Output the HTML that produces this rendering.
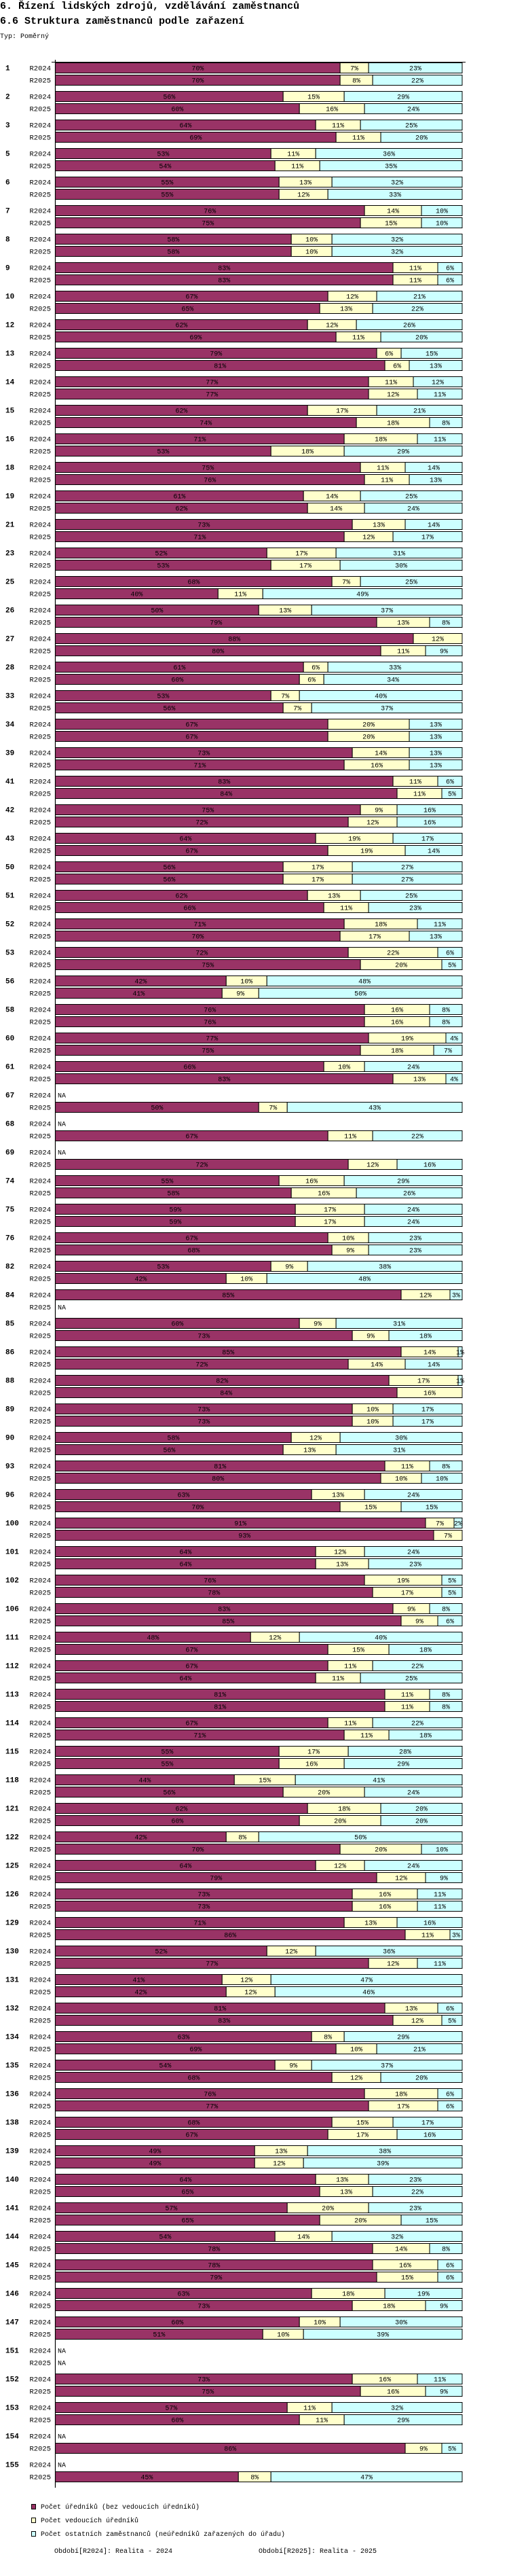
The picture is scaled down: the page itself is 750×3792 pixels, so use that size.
<!DOCTYPE html>
<html><head><meta charset="utf-8">
<style>
html,body{margin:0;padding:0;background:#fff;width:750px;height:3792px;overflow:hidden}
svg{position:absolute;left:0;top:0}
text{font-family:"Liberation Mono","DejaVu Sans Mono",monospace}
</style></head>
<body>
<svg id="chart" width="750" height="3792" xmlns="http://www.w3.org/2000/svg">
<text x="0" y="13" font-size="15" font-weight="bold">6. Řízení lidských zdrojů, vzdělávání zaměstnanců</text>
<text x="0" y="35" font-size="15" font-weight="bold">6.6 Struktura zaměstnanců podle zařazení</text>
<text x="0" y="56" font-size="10">Typ: Poměrný</text>
<g id="bars"></g>
<line x1="81.5" y1="88" x2="81.5" y2="3662" stroke="#000" stroke-width="1.2"/>
<line x1="76" y1="91.5" x2="686" y2="91.5" stroke="#000" stroke-width="1"/>
<g>
<rect x="46.5" y="3686.5" width="6" height="7" fill="#993366" stroke="#000"/>
<text x="60" y="3693" font-size="10">Počet úředníků (bez vedoucích úředníků)</text>
<rect x="46.5" y="3706.5" width="6" height="7" fill="#FFFFCC" stroke="#000"/>
<text x="60" y="3713" font-size="10">Počet vedoucích úředníků</text>
<rect x="46.5" y="3726.5" width="6" height="7" fill="#CCFFFF" stroke="#000"/>
<text x="60" y="3733" font-size="10">Počet ostatních zaměstnanců (neúředníků zařazených do úřadu)</text>
<text x="80" y="3758" font-size="10">Období[R2024]: Realita - 2024</text>
<text x="381" y="3758" font-size="10">Období[R2025]: Realita - 2025</text>
</g>
</svg>
<script>
const groupLabels = [1,2,3,5,6,7,8,9,10,12,13,14,15,16,18,19,21,23,25,26,27,28,33,34,39,41,42,43,50,51,52,53,56,58,60,61,67,68,69,74,75,76,82,84,85,86,88,89,90,93,96,100,101,102,106,111,112,113,114,115,118,121,122,125,126,129,130,131,132,134,135,136,138,139,140,141,144,145,146,147,151,152,153,154,155];
const periods = ["R2024","R2025"];
const off2024 = [70,56,64,53,55,76,58,83,67,62,79,77,62,71,75,61,73,52,68,50,88,61,53,67,73,83,75,64,56,62,71,72,42,76,77,66,null,null,null,55,59,67,53,85,60,85,82,73,58,81,63,91,64,76,83,48,67,81,67,55,44,62,42,64,73,71,52,41,81,63,54,76,68,49,64,57,54,78,63,60,null,73,57,null,null];
const lead2024 = [7,15,11,11,13,14,10,11,12,12,6,11,17,18,11,14,13,17,7,13,12,6,7,20,14,11,9,19,17,13,18,22,10,16,19,10,null,null,null,16,17,10,9,12,9,14,17,10,12,11,13,7,12,19,9,12,11,11,11,17,15,18,8,12,16,13,12,12,13,8,9,18,15,13,13,20,14,16,18,10,null,16,11,null,null];
const other2024 = [23,29,25,36,32,10,32,6,21,26,15,12,21,11,14,25,14,31,25,37,0,33,40,13,13,6,16,17,27,25,11,6,48,8,4,24,null,null,null,29,24,23,38,3,31,1,1,17,30,8,24,2,24,5,8,40,22,8,22,28,41,20,50,24,11,16,36,47,6,29,37,6,17,38,23,23,32,6,19,30,null,11,32,null,null];
const off2025 = [70,60,69,54,55,75,58,83,65,69,81,77,74,53,76,62,71,53,40,79,80,60,56,67,71,84,72,67,56,66,70,75,41,76,75,83,50,67,72,58,59,68,42,null,73,72,84,73,56,80,70,93,64,78,85,67,64,81,71,55,56,60,70,79,73,86,77,42,83,69,68,77,67,49,65,65,78,79,73,51,null,75,60,86,45];
const lead2025 = [8,16,11,11,12,15,10,11,13,11,6,12,18,18,11,14,12,17,11,13,11,6,7,20,16,11,12,19,17,11,17,20,9,16,18,13,7,11,12,16,17,9,10,null,9,14,16,10,13,10,15,7,13,17,9,15,11,11,11,16,20,20,20,12,16,11,12,12,12,10,12,17,17,12,13,20,14,15,18,10,null,16,11,9,8];
const other2025 = [22,24,20,35,33,10,32,6,22,20,13,11,8,29,13,24,17,30,49,8,9,34,37,13,13,5,16,14,27,23,13,5,50,8,7,4,43,22,16,26,24,23,48,null,18,14,0,17,31,10,15,0,23,5,6,18,25,8,18,29,24,20,10,9,11,3,11,46,5,21,20,6,16,39,22,15,8,6,9,39,null,9,29,5,47];

const NS = "http://www.w3.org/2000/svg";
const AX_X = 81.5, AX_W = 599.5, TOP = 92, PITCH = 42, BAR_H = 15;
const colors = ["#993366","#FFFFCC","#CCFFFF"];
const segNames = ["officials","leaders","others"];
const g = document.getElementById("bars");
function xScale(v){ return v * AX_W / 100; }
function yGroup(i){ return TOP + i * PITCH; }
function mk(tag, attrs){ const e = document.createElementNS(NS, tag); for (const k in attrs) e.setAttribute(k, attrs[k]); return e; }

groupLabels.forEach((lab, i) => {
  const gy = yGroup(i);
  const gl = mk("text", {x: 8, y: gy + 11.5, "font-size": 11, "font-weight": "bold"});
  gl.textContent = lab;
  
  
  g.appendChild(gl);
  const series = [[off2024[i], lead2024[i], other2024[i]], [off2025[i], lead2025[i], other2025[i]]];
  series.forEach((vals, p) => {
    const by = gy + 0.5 + p * 18;
    const pl = mk("text", {x: 75, y: by + 11, "font-size": 10.5, "text-anchor": "end"});
    pl.textContent = periods[p];
    
    
    g.appendChild(pl);
    if (vals[0] === null) {
      const na = mk("text", {x: 85, y: by + 11, "font-size": 10});
      na.textContent = "NA";
      
      
      g.appendChild(na);
      return;
    }
    const total = vals[0] + vals[1] + vals[2];
    let acc = 0;
    vals.forEach((v, s) => {
      if (!v) return;
      const x0 = AX_X + xScale(acc * 100 / total);
      const w = xScale(v * 100 / total);
      acc += v;
      const r = mk("rect", {x: x0, y: by, width: w, height: BAR_H, fill: colors[s], stroke: "#000", "stroke-width": 1});
      
      
      g.appendChild(r);
      const t = mk("text", {x: x0 + w / 2, y: by + 11, "font-size": 10, "text-anchor": "middle"});
      t.textContent = v + "%";
      
      
      g.appendChild(t);
    });
  });
});
</script>
</body></html>
